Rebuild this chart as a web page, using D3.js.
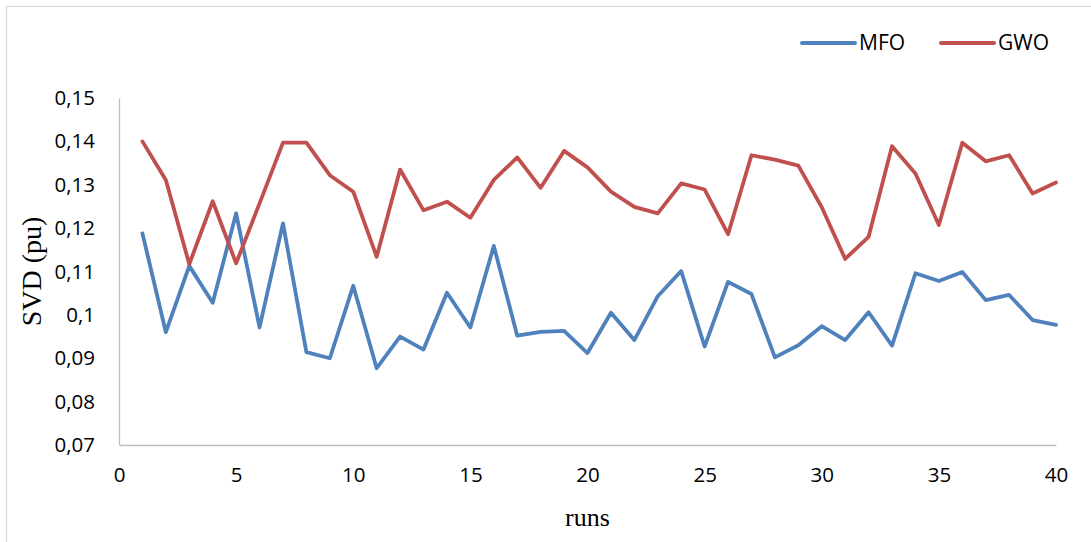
<!DOCTYPE html>
<html>
<head>
<meta charset="utf-8">
<script src="https://cdn.jsdelivr.net/npm/d3@7"></script>
<style>
  html, body { margin: 0; padding: 0; background: #ffffff; }
  svg { display: block; }
</style>
</head>
<body>
<svg id="chart" width="1091" height="542"></svg>
<script>
// Run index (1..40)
const runs = d3.range(1, 41);

// SVD (pu) per run for each optimiser
const mfo = [
  0.1188, 0.0960, 0.1113, 0.1028, 0.1234, 0.0971, 0.1211, 0.0914, 0.0900, 0.1067,
  0.0877, 0.0950, 0.0920, 0.1051, 0.0971, 0.1159, 0.0952, 0.0961, 0.0963, 0.0912,
  0.1005, 0.0942, 0.1043, 0.1101, 0.0927, 0.1076, 0.1048, 0.0902, 0.0930, 0.0974,
  0.0942, 0.1006, 0.0929, 0.1096, 0.1078, 0.1099, 0.1034, 0.1046, 0.0988, 0.0977
];
const gwo = [
  0.1400, 0.1311, 0.1117, 0.1262, 0.1119, 0.1257, 0.1397, 0.1397, 0.1322, 0.1284,
  0.1134, 0.1335, 0.1241, 0.1261, 0.1224, 0.1311, 0.1363, 0.1293, 0.1378, 0.1340,
  0.1284, 0.1249, 0.1234, 0.1303, 0.1289, 0.1186, 0.1368, 0.1358, 0.1344, 0.1248,
  0.1129, 0.1180, 0.1389, 0.1326, 0.1207, 0.1397, 0.1354, 0.1368, 0.1280, 0.1305
];

const seriesNames = ["MFO", "GWO"];
const seriesColors = ["#4F81BD", "#C0504D"];

const xTicks = [0, 5, 10, 15, 20, 25, 30, 35, 40];
const yTicks = [0.07, 0.08, 0.09, 0.10, 0.11, 0.12, 0.13, 0.14, 0.15];

const xTitle = "runs";
const yTitle = "SVD (pu)";

const svg = d3.select("#chart");

// outer chart frame
svg.append("rect")
  .attr("x", 6.5).attr("y", 6.5)
  .attr("width", 1100).attr("height", 560)
  .attr("fill", "#ffffff")
  .attr("stroke", "#d9d9d9")
  .attr("stroke-width", 1.3);

const plot = { left: 119, right: 1056, top: 98, bottom: 445 };

const x = d3.scaleLinear().domain([0, 40]).range([plot.left, plot.right]);
const y = d3.scaleLinear().domain([0.07, 0.15]).range([plot.bottom, plot.top]);

const fmt = v => String(+v.toFixed(2)).replace(".", ",");

// y axis
const yAxis = svg.append("g")
  .attr("transform", `translate(${plot.left},0)`)
  .call(d3.axisLeft(y).tickValues(yTicks).tickFormat(fmt).tickSize(0).tickPadding(24));
yAxis.select(".domain").attr("stroke", "#bfbfbf").attr("stroke-width", 1.3);
yAxis.selectAll("text")
  .attr("font-family", "'Open Sans', sans-serif")
  .attr("font-size", 20.5)
  .attr("fill", "#000");

// x axis
const xAxis = svg.append("g")
  .attr("transform", `translate(0,${plot.bottom})`)
  .call(d3.axisBottom(x).tickValues(xTicks).tickFormat(d3.format("d")).tickSize(0).tickPadding(22));
xAxis.select(".domain").attr("stroke", "#bfbfbf").attr("stroke-width", 1.3);
xAxis.selectAll("text")
  .attr("font-family", "'Open Sans', sans-serif")
  .attr("font-size", 20.5)
  .attr("fill", "#000");

// axis titles
svg.append("text")
  .attr("x", (plot.left + plot.right) / 2)
  .attr("y", 526)
  .attr("text-anchor", "middle")
  .attr("font-family", "'Liberation Serif', 'Times New Roman', serif")
  .attr("font-size", 26)
  .text(xTitle);

svg.append("text")
  .attr("transform", `translate(41,${(plot.top + plot.bottom) / 2}) rotate(-90)`)
  .attr("text-anchor", "middle")
  .attr("font-family", "'Liberation Serif', 'Times New Roman', serif")
  .attr("font-size", 28)
  .text(yTitle);

// series lines
const line = d3.line()
  .x((d, i) => x(runs[i]))
  .y(d => y(d));

[mfo, gwo].forEach((vals, k) => {
  svg.append("path")
    .datum(vals)
    .attr("d", line)
    .attr("fill", "none")
    .attr("stroke", seriesColors[k])
    .attr("stroke-width", 3.8)
    .attr("stroke-linejoin", "round")
    .attr("stroke-linecap", "round");
});

// legend
const legendX = [802, 941];
const legend = svg.append("g");
seriesNames.forEach((name, k) => {
  legend.append("line")
    .attr("x1", legendX[k]).attr("x2", legendX[k] + 53)
    .attr("y1", 43).attr("y2", 43)
    .attr("stroke", seriesColors[k])
    .attr("stroke-width", 4)
    .attr("stroke-linecap", "round");
  legend.append("text")
    .attr("x", legendX[k] + 57)
    .attr("y", 43)
    .attr("dy", "0.35em")
    .attr("font-family", "'Open Sans', sans-serif")
    .attr("font-size", 21)
    .attr("fill", "#000")
    .text(name);
});
</script>
</body>
</html>
